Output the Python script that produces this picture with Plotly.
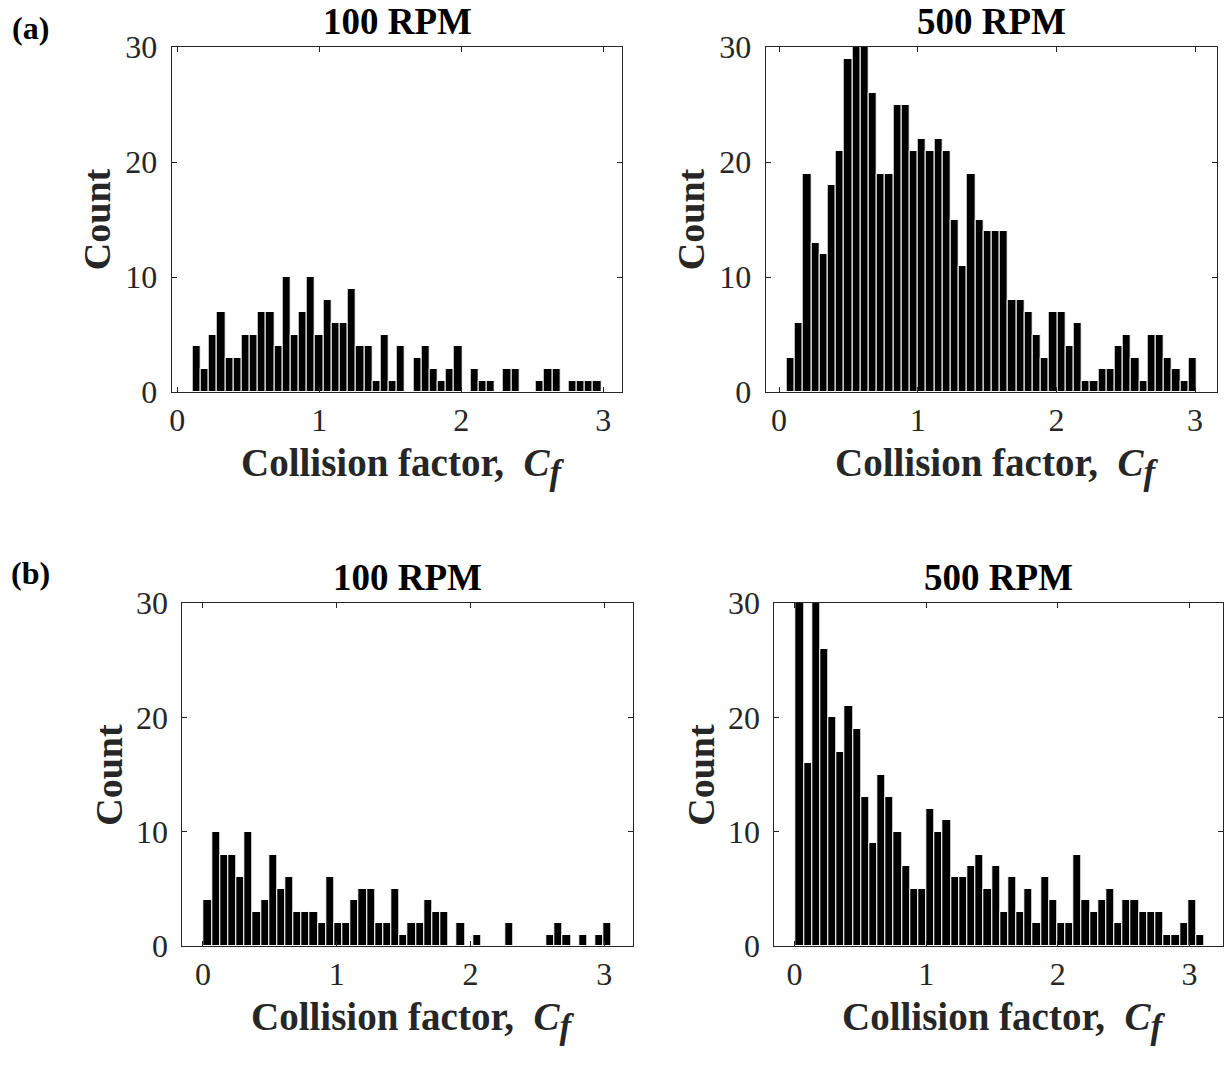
import numpy as np
import plotly.graph_objects as go

# ---------------- data (histogram counts, 50 bins each) ----------------
counts_a_100 = [4, 2, 5, 7, 3, 3, 5, 5, 7, 7, 4, 10, 5, 7, 10, 5, 8, 6, 6, 9,
                4, 4, 1, 5, 1, 4, 0, 3, 4, 2, 1, 2, 4, 0, 2, 1, 1, 0, 2, 2,
                0, 0, 1, 2, 2, 0, 1, 1, 1, 1]
counts_a_500 = [3, 6, 19, 13, 12, 18, 21, 29, 30, 30, 26, 19, 19, 25, 25, 21, 22, 21, 22, 21,
                15, 11, 19, 15, 14, 14, 14, 8, 8, 7, 5, 3, 7, 7, 4, 6, 1, 1, 2, 2,
                4, 5, 3, 1, 5, 5, 3, 2, 1, 3]
counts_b_100 = [4, 10, 8, 8, 6, 10, 3, 4, 8, 5, 6, 3, 3, 3, 2, 6, 2, 2, 4, 5,
                5, 2, 2, 5, 1, 2, 2, 4, 3, 3, 0, 2, 0, 1, 0, 0, 0, 2, 0, 0,
                0, 0, 1, 2, 1, 0, 1, 0, 1, 2]
counts_b_500 = [31, 16, 31, 26, 20, 17, 21, 19, 13, 9, 15, 13, 10, 7, 5, 5, 12, 10, 11, 6,
                6, 7, 8, 5, 7, 3, 6, 3, 5, 2, 6, 4, 2, 2, 8, 4, 3, 4, 5, 2,
                4, 4, 3, 3, 3, 1, 1, 2, 4, 1]

# histogram data limits (min, max of Cf) for each panel
limits_a_100 = (0.108, 2.986)
limits_a_500 = (0.056, 3.011)
limits_b_100 = (0.006, 3.055)
limits_b_500 = (0.009, 3.112)

titles = ["100 RPM", "500 RPM", "100 RPM", "500 RPM"]
panel_labels = ["(a)", "(b)"]
x_ticks = [0, 1, 2, 3]
y_ticks = [0, 10, 20, 30]
x_label = ("<b>Collision factor, &nbsp;<i>C<sub><span style='font-size:35px'>f</span></sub></i></b>")
y_label = "<b>Count</b>"

# ---------------- layout helpers ----------------
W, H = 1231, 1066
FONT = "Liberation Serif"
INK = "#262626"


def px(x):
    return x / W


def py(y):
    return 1 - y / H


panels = [
    dict(counts=counts_a_100, lim=limits_a_100, xdom=(171.7, 622.3), ydom=(47, 392), xr=(-0.039, 3.134)),
    dict(counts=counts_a_500, lim=limits_a_500, xdom=(765.7, 1217.3), ydom=(47, 392), xr=(-0.096, 3.160)),
    dict(counts=counts_b_100, lim=limits_b_100, xdom=(182.3, 632.7), ydom=(603, 946), xr=(-0.154, 3.212)),
    dict(counts=counts_b_500, lim=limits_b_500, xdom=(774.3, 1223.3), ydom=(603, 946), xr=(-0.153, 3.256)),
]

fig = go.Figure()
layout = dict(
    width=W, height=H,
    margin=dict(l=0, r=0, t=0, b=0, autoexpand=False),
    paper_bgcolor="white", plot_bgcolor="white",
    showlegend=False,
    font=dict(family=FONT, color=INK),
)
annotations = []

for i, p in enumerate(panels):
    n = len(p["counts"])
    edges = np.linspace(p["lim"][0], p["lim"][1], n + 1)
    centers = (edges[:-1] + edges[1:]) / 2
    width = edges[1] - edges[0]
    xa = "x" if i == 0 else f"x{i + 1}"
    ya = "y" if i == 0 else f"y{i + 1}"
    fig.add_trace(go.Bar(
        x=centers, y=p["counts"], width=width,
        marker=dict(color="black", line=dict(color="white", width=1)),
        xaxis=xa, yaxis=ya, hoverinfo="x+y",
    ))
    common = dict(
        ticks="inside", ticklen=5, tickwidth=1, tickcolor=INK,
        showline=True, linecolor=INK, linewidth=1, mirror="ticks",
        showgrid=False, zeroline=False, automargin=False,
        tickfont=dict(family=FONT, size=32, color=INK),
    )
    layout["xaxis" if i == 0 else f"xaxis{i + 1}"] = dict(
        domain=[px(p["xdom"][0]), px(p["xdom"][1])],
        range=list(p["xr"]), tickvals=x_ticks, anchor=ya,
        ticklabelstandoff=0, **common)
    layout["yaxis" if i == 0 else f"yaxis{i + 1}"] = dict(
        domain=[py(p["ydom"][1]), py(p["ydom"][0])],
        range=[0, 30], tickvals=y_ticks, anchor=xa,
        ticklabelstandoff=7, **common)

    xc = (p["xdom"][0] + p["xdom"][1]) / 2
    # title
    annotations.append(dict(
        text=f"<b>{titles[i]}</b>", xref="paper", yref="paper",
        x=px(xc), y=py(p["ydom"][0] - 26), xanchor="center", yanchor="middle",
        showarrow=False, font=dict(family=FONT, size=37, color="black")))
    # x label
    annotations.append(dict(
        text=x_label, xref="paper", yref="paper",
        x=px(xc + 5), y=py(p["ydom"][1] + 74), xanchor="center", yanchor="middle",
        showarrow=False, font=dict(family=FONT, size=39, color=INK)))
    # y label
    annotations.append(dict(
        text=y_label, xref="paper", yref="paper", textangle=-90,
        x=px(p["xdom"][0] - 74), y=py((p["ydom"][0] + p["ydom"][1]) / 2),
        xanchor="center", yanchor="middle",
        showarrow=False, font=dict(family=FONT, size=38, color=INK)))

for j, lab in enumerate(panel_labels):
    annotations.append(dict(
        text=f"<b>{lab}</b>", xref="paper", yref="paper",
        x=px(30), y=py(28 + j * 545), xanchor="center", yanchor="middle",
        showarrow=False, font=dict(family=FONT, size=32, color="black")))

layout["annotations"] = annotations
layout["bargap"] = 0
fig.update_layout(**layout)
fig.write_html("out.html")
